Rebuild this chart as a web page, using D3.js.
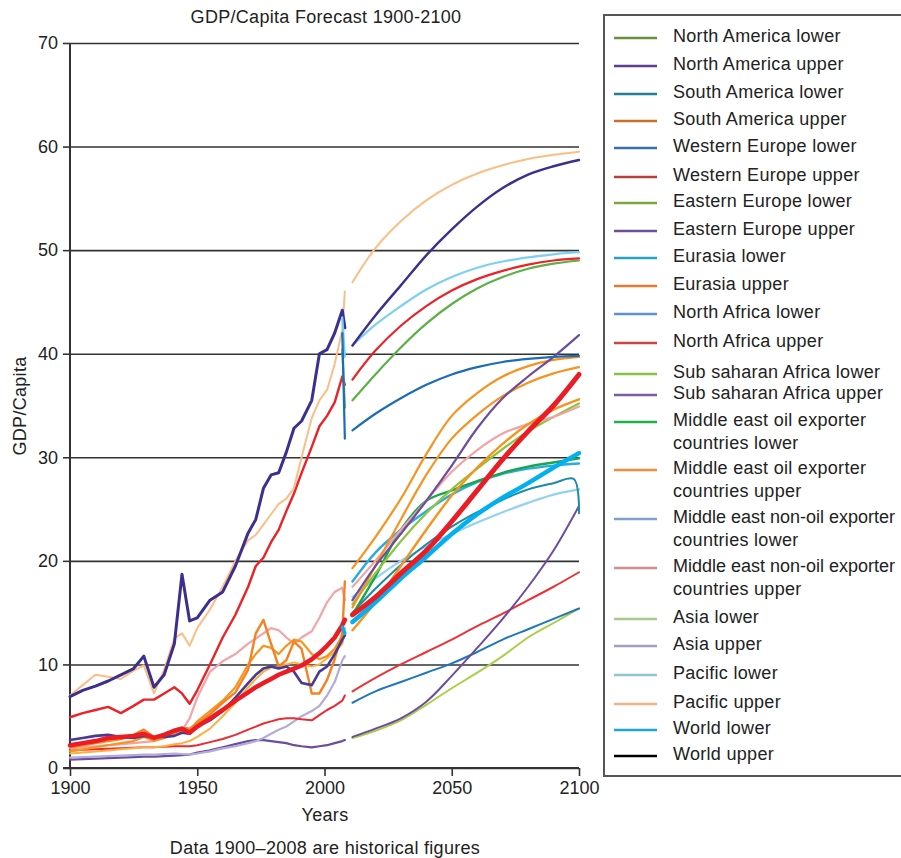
<!DOCTYPE html>
<html><head><meta charset="utf-8">
<script src="https://cdn.jsdelivr.net/npm/d3@7/dist/d3.min.js"></script>
<style>
html,body{margin:0;padding:0;background:#fff;}
svg{display:block;font-family:"Liberation Sans",Arial,Helvetica,sans-serif;}
</style></head>
<body><svg id="c" width="901" height="858"></svg>
<script>
// ---------- DATA ----------
const xTicks = [1900, 1950, 2000, 2050, 2100];
const yTicks = [0, 10, 20, 30, 40, 50, 60, 70];

const histYears = [1900,1905,1910,1915,1920,1925,1929,1933,1937,1941,1944,1947,1950,1955,1960,1965,1970,1973,1976,1979,1982,1985,1988,1991,1995,1998,2001,2004,2007,2008];
const histNavy     = [6.9,7.5,7.9,8.4,9.0,9.6,10.8,7.8,9.0,12.0,18.7,14.2,14.5,16.2,17.0,19.5,22.7,24.0,27.0,28.3,28.5,30.5,32.8,33.5,35.5,40.0,40.4,42.0,44.2,42.5];
const histPeach    = [7.0,8.0,9.0,8.8,8.6,9.4,9.9,7.2,9.5,12.5,13.0,11.8,13.5,15.3,17.5,20.0,22.0,22.5,23.5,24.5,25.5,26.0,27.0,30.0,33.8,35.5,36.5,39.0,42.3,46.0];
const histRed      = [4.9,5.3,5.6,5.9,5.3,6.0,6.6,6.6,7.2,7.8,7.2,6.2,7.5,10.0,12.6,14.8,17.5,19.5,20.3,21.8,23.0,24.8,26.5,28.5,31.0,33.0,34.0,35.3,37.8,37.0];
const histNavyLow  = [2.7,2.9,3.1,3.2,3.0,2.9,3.1,3.0,3.0,3.1,3.4,3.3,4.0,4.6,5.5,6.8,8.2,9.0,9.6,9.8,9.6,9.8,9.3,8.2,8.0,9.3,9.8,11.0,12.4,12.8];
const histRedThick = [2.2,2.4,2.6,2.9,3.0,3.1,3.3,2.9,3.2,3.6,3.8,3.4,4.0,4.8,5.6,6.5,7.3,7.8,8.2,8.6,9.0,9.3,9.6,9.9,10.5,11.1,11.8,12.6,13.8,14.3];
const histOrangeA  = [2.0,2.2,2.4,2.6,2.8,3.2,3.7,3.0,3.3,3.7,3.9,3.8,4.3,5.2,6.3,7.3,9.5,13.0,14.3,12.0,9.8,10.4,12.2,11.5,7.2,7.2,8.5,10.5,13.0,18.0];
const histOrangeB  = [1.6,1.8,2.0,2.2,2.4,2.6,3.0,2.6,2.9,3.3,3.6,3.7,4.5,5.5,6.5,7.8,10.0,11.0,11.8,11.6,11.0,11.8,12.4,12.2,11.0,10.5,10.8,11.5,12.8,13.5];
const histOrangeC  = [1.4,1.5,1.6,1.7,1.8,1.9,2.0,2.0,2.1,2.3,2.4,2.6,3.0,3.8,5.0,6.3,7.8,8.6,9.3,9.7,9.8,10.0,10.2,10.0,9.8,10.0,10.6,11.2,12.0,13.0];
const histPink     = [1.9,2.0,2.1,2.2,2.3,2.4,2.5,2.6,2.9,3.2,3.6,4.8,6.8,9.3,10.3,11.0,12.0,12.5,13.0,13.5,13.3,12.6,12.0,12.6,13.2,14.5,16.0,17.0,17.4,16.2];
const histLavender = [1.0,1.05,1.1,1.15,1.2,1.25,1.3,1.3,1.35,1.4,1.35,1.3,1.4,1.6,1.9,2.1,2.4,2.6,2.9,3.3,3.7,4.0,4.5,5.0,5.5,6.0,7.0,8.3,10.4,10.8];
const histRedThin  = [1.7,1.75,1.8,1.85,1.9,1.95,2.0,2.0,2.05,2.1,2.1,2.1,2.2,2.5,2.8,3.2,3.7,4.0,4.3,4.5,4.7,4.8,4.8,4.7,4.6,5.1,5.6,6.0,6.5,7.0];
const histPurple   = [0.8,0.85,0.9,0.95,1.0,1.05,1.1,1.1,1.15,1.2,1.25,1.3,1.5,1.7,2.0,2.3,2.6,2.7,2.7,2.6,2.5,2.4,2.2,2.1,2.0,2.1,2.2,2.4,2.6,2.7];

const dropYears = [2007, 2008];
const dropLightBlue = [43.5, 39.7];
const dropGreen     = [40.4, 34.8];
const dropBlue      = [42.0, 31.8];
const dropCyan      = [13.6, 13.0];

const fcYears = [2011,2020,2030,2040,2050,2060,2070,2080,2090,2100];
const fcPeach      = [46.9,50.2,52.8,54.8,56.3,57.4,58.2,58.8,59.2,59.5];
const fcNavy       = [40.8,43.7,46.6,49.5,52.0,54.2,56.0,57.3,58.1,58.7];
const fcLightBlue  = [40.8,42.8,44.6,46.2,47.4,48.3,48.9,49.3,49.6,49.8];
const fcRed        = [37.5,40.3,42.7,44.6,46.1,47.2,48.0,48.6,49.0,49.2];
const fcGreen      = [35.5,38.0,40.6,42.9,44.8,46.3,47.4,48.2,48.7,49.0];
const fcBlue       = [32.6,34.2,35.7,37.0,38.0,38.7,39.2,39.5,39.7,39.8];
const fcPurpleUp   = [16.2,19.5,22.6,25.8,29.2,32.8,35.7,37.8,39.7,41.8];
const fcOrangeA    = [19.3,22.3,26.0,30.3,34.0,36.2,37.8,38.8,39.4,39.7];
const fcOrangeB    = [15.5,19.5,24.0,28.3,31.8,34.1,35.9,37.2,38.1,38.7];
const fcRedThick   = [14.8,16.5,18.8,21.0,23.8,26.8,29.8,32.5,35.0,38.0];
const fcPink       = [17.5,20.0,23.0,25.8,28.6,30.7,32.3,33.2,33.9,34.9];
const fcLightGreen = [15.8,18.8,21.9,24.6,26.9,28.9,30.8,32.5,33.9,35.2];
const fcOrangeC    = [13.3,16.0,19.5,23.0,26.3,29.0,31.3,33.2,34.6,35.6];
const fcDarkGreen  = [14.8,18.5,23.0,25.8,26.8,27.7,28.5,29.1,29.5,29.9];
const fcCyanThick  = [14.1,16.0,18.3,20.4,22.6,24.5,26.1,27.5,29.0,30.4];
const fcCyan       = [18.0,20.8,23.0,24.8,26.4,27.6,28.4,28.9,29.2,29.4];
const fcPaleBlue   = [16.5,18.3,20.0,21.4,22.6,23.7,24.7,25.6,26.4,26.9];
const fcPurpleLow  = [3.0,3.8,4.8,6.4,8.9,11.6,14.4,17.5,21.0,25.3];
const fcRedLow     = [7.4,8.7,10.0,11.2,12.4,13.7,14.9,16.2,17.5,18.9];
const fcBlueLow    = [6.3,7.4,8.3,9.2,10.1,11.2,12.4,13.4,14.4,15.4];
const fcYellowLow  = [2.9,3.6,4.6,6.1,7.7,9.2,10.8,12.6,14.0,15.4];
const tealYears    = [2011,2020,2030,2040,2050,2060,2070,2080,2090,2098,2100];
const fcTeal       = [15.0,17.3,19.6,21.6,23.3,24.7,25.9,26.9,27.5,27.9,24.6];

const legendLabels = [
  ["North America lower"],["North America upper"],["South America lower"],["South America upper"],
  ["Western Europe lower"],["Western Europe upper"],["Eastern Europe lower"],["Eastern Europe upper"],
  ["Eurasia lower"],["Eurasia upper"],["North Africa lower"],["North Africa upper"],
  ["Sub saharan Africa lower"],["Sub saharan Africa upper"],
  ["Middle east oil exporter","countries lower"],["Middle east oil exporter","countries upper"],
  ["Middle east non-oil exporter","countries lower"],["Middle east non-oil exporter","countries upper"],
  ["Asia lower"],["Asia upper"],["Pacific lower"],["Pacific upper"],["World lower"],["World upper"]
];
const legendColors = ["#6b8e3a","#5b3f8f","#217f93","#c8702a","#3a6fad","#b8403c","#7fa83c","#6c4f98",
  "#2aa0c0","#e07b2f","#5f8fcc","#cc4440","#8cbf4a","#7b5aa6","#22b04b","#f58a3c","#7f9fd0","#d88a8c",
  "#a9c98c","#a49cc6","#8ec6d8","#f7b08a","#1ea6dc","#000000"];
const legendY = [38,66,94,121,148,177,203,231,258,286,314,343,374,395,422,470,519,568,619,646,675,704,730,756];

// ---------- DRAW ----------
const FS = 18, LS = 0.3;
const svg = d3.select("#c");
const x = d3.scaleLinear().domain([1900,2100]).range([70,579]);
const y = d3.scaleLinear().domain([0,70]).range([768,43]);

// gridlines
svg.append("g").attr("transform","translate(70,0)")
  .call(d3.axisLeft(y).tickValues(yTicks).tickSize(-509).tickFormat(""))
  .call(g=>g.select(".domain").remove())
  .call(g=>g.selectAll("line").attr("stroke","#333").attr("stroke-width",1.6));
// y axis
svg.append("g").attr("transform","translate(70,0)")
  .call(d3.axisLeft(y).tickValues(yTicks).tickSize(7).tickPadding(5))
  .call(g=>g.select(".domain").attr("stroke","#333").attr("stroke-width",2).attr("d","M0,43V768"))
  .call(g=>g.selectAll("line").attr("stroke","#333").attr("stroke-width",1.6))
  .call(g=>g.selectAll("text").attr("font-size",FS).attr("fill","#222").attr("font-family","Liberation Sans, Arial, sans-serif"));
// x axis
svg.append("g").attr("transform","translate(0,768)")
  .call(d3.axisBottom(x).tickValues(xTicks).tickSize(8).tickPadding(5).tickFormat(d3.format("d")))
  .call(g=>g.select(".domain").attr("stroke","#333").attr("stroke-width",2).attr("d","M63,0H579"))
  .call(g=>g.selectAll("line").attr("stroke","#333").attr("stroke-width",1.6))
  .call(g=>g.selectAll("text").attr("font-size",FS).attr("fill","#222").attr("font-family","Liberation Sans, Arial, sans-serif"));

const series = [
  [histYears, histPurple, "#6a4ca0", 2.2],
  [histYears, histLavender, "#b4acd8", 2.2],
  [histYears, histRedThin, "#ec2a30", 2],
  [histYears, histOrangeC, "#fbb040", 2],
  [histYears, histPink, "#f4a3a8", 2.2],
  [histYears, histOrangeB, "#f7941d", 2.2],
  [histYears, histOrangeA, "#f58220", 2.4],
  [histYears, histNavyLow, "#463a94", 2.6],
  [histYears, histRedThick, "#ec1c24", 4.5],
  [histYears, histRed, "#ec2227", 2.4],
  [histYears, histPeach, "#fdbe85", 2],
  [histYears, histNavy, "#3d2f8e", 3],
  [dropYears, dropLightBlue, "#6dcff6", 2.2],
  [dropYears, dropGreen, "#5cb046", 2.2],
  [dropYears, dropBlue, "#1d6db5", 2.2],
  [dropYears, dropCyan, "#00b0ef", 3.5],
  [fcYears, fcYellowLow, "#a8cf45", 2],
  [fcYears, fcBlueLow, "#1f77bb", 2],
  [fcYears, fcRedLow, "#ec3237", 2],
  [fcYears, fcPurpleLow, "#6d4c9f", 2],
  [fcYears, fcPaleBlue, "#91d2f0", 2.2],
  [tealYears, fcTeal, "#1b8ba6", 2],
  [fcYears, fcCyan, "#29abe2", 2.4],
  [fcYears, fcDarkGreen, "#19a64a", 2.4],
  [fcYears, fcLightGreen, "#8cc63f", 2.2],
  [fcYears, fcPink, "#f4a3a5", 2.2],
  [fcYears, fcOrangeC, "#f7931e", 2.4],
  [fcYears, fcOrangeB, "#f7931e", 2.2],
  [fcYears, fcOrangeA, "#f7931e", 2.2],
  [fcYears, fcPurpleUp, "#6d4c9f", 2.2],
  [fcYears, fcCyanThick, "#00b0ef", 4.5],
  [fcYears, fcRedThick, "#ec1c24", 5],
  [fcYears, fcBlue, "#1d6db5", 2.2],
  [fcYears, fcGreen, "#5cb046", 2.2],
  [fcYears, fcRed, "#ec2227", 2.2],
  [fcYears, fcLightBlue, "#7dd0f2", 2.2],
  [fcYears, fcNavy, "#3d2f8e", 2.4],
  [fcYears, fcPeach, "#fdbe85", 2]
];

const lineHist = d3.line().x(d=>x(d[0])).y(d=>y(d[1])).curve(d3.curveLinear);
const lineFc = d3.line().x(d=>x(d[0])).y(d=>y(d[1])).curve(d3.curveCatmullRom.alpha(0.5));
const plot = svg.append("g");
series.forEach(([yrs, vals, col, w])=>{
  const pts = yrs.map((yr,i)=>[yr, vals[i]]);
  const gen = yrs[0] >= 2010 ? lineFc : lineHist;
  plot.append("path").attr("d", gen(pts)).attr("fill","none")
    .attr("stroke", col).attr("stroke-width", w)
    .attr("stroke-linejoin","round").attr("stroke-linecap","round");
});

function txt(el, ls){ return el.attr("font-size",FS).attr("letter-spacing", ls===undefined?LS:ls).attr("fill","#222"); }
// titles
txt(svg.append("text").attr("x",326).attr("y",23).attr("text-anchor","middle")).text("GDP/Capita Forecast 1900-2100");
txt(svg.append("text").attr("transform","translate(26,406) rotate(-90)").attr("text-anchor","middle")).text("GDP/Capita");
txt(svg.append("text").attr("x",325).attr("y",821).attr("text-anchor","middle")).text("Years");
txt(svg.append("text").attr("x",325).attr("y",854).attr("text-anchor","middle")).text("Data 1900–2008 are historical figures");

// legend
const lg = svg.append("g");
lg.append("rect").attr("x",604).attr("y",15).attr("width",300).attr("height",761)
  .attr("fill","none").attr("stroke","#555").attr("stroke-width",2);
legendLabels.forEach((lab,i)=>{
  const ly = legendY[i];
  lg.append("line").attr("x1",614).attr("x2",657).attr("y1",ly).attr("y2",ly)
    .attr("stroke",legendColors[i]).attr("stroke-width",2.6);
  lab.forEach((t,j)=>{
    const ls = t.length > 26 ? 0 : LS;
    txt(lg.append("text").attr("x",673).attr("y",ly - 2 + j*22.7).attr("dominant-baseline","central"), ls).text(t);
  });
});
</script>
</body></html>
